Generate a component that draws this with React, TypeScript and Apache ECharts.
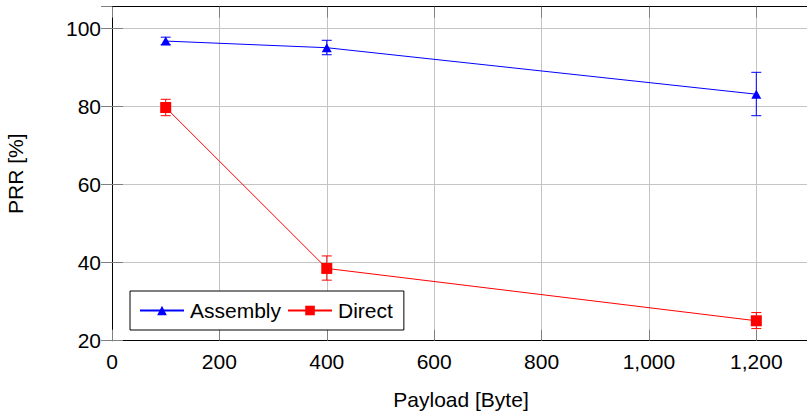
import React, { useEffect, useRef } from "react";
import * as echarts from "echarts";

const payloads = [100, 400, 1200];
const assembly = [96.7, 95.0, 83.1];
const assemblyLow = [95.8, 93.2, 77.6];
const assemblyHigh = [97.7, 96.9, 88.7];
const direct = [79.7, 38.5, 25.1];
const directLow = [77.6, 35.5, 23.1];
const directHigh = [81.8, 41.7, 27.2];

const FONT = "Liberation Sans, Arial, Helvetica, sans-serif";
const BLUE = "#0000ff";
const RED = "#ff0000";

function errSeries(name: string, color: string, lo: number[], hi: number[]) {
  return {
    type: "custom",
    name,
    xAxisIndex: 0,
    yAxisIndex: 0,
    z: 3,
    data: payloads.map((x, i) => [x, lo[i], hi[i]]),
    encode: { x: 0, y: [1, 2] },
    renderItem: (_params: any, api: any) => {
      const x = api.value(0);
      const pLo = api.coord([x, api.value(1)]);
      const pHi = api.coord([x, api.value(2)]);
      const w = 5;
      const style = { stroke: color, lineWidth: 1, fill: "none" };
      return {
        type: "group",
        children: [
          { type: "line", shape: { x1: pLo[0], y1: pLo[1], x2: pHi[0], y2: pHi[1] }, style },
          { type: "line", shape: { x1: pLo[0] - w, y1: pLo[1], x2: pLo[0] + w, y2: pLo[1] }, style },
          { type: "line", shape: { x1: pHi[0] - w, y1: pHi[1], x2: pHi[0] + w, y2: pHi[1] }, style },
        ],
      };
    },
  };
}

export default function App() {
  const ref = useRef<HTMLDivElement>(null);
  useEffect(() => {
    if (!ref.current) return;
    const chart = echarts.init(ref.current, null, { renderer: "svg" });
    const tickStyle = { show: true, inside: true, length: 11, lineStyle: { color: "#808080", width: 1 } };
    const axisLine = { show: true, lineStyle: { color: "#000", width: 1 } };
    const labelStyle = { color: "#000", fontSize: 21, fontFamily: FONT };
    chart.setOption({
      animation: false,
      backgroundColor: "#fff",
      textStyle: { fontFamily: FONT },
      grid: { left: 112, top: 6.7, width: 698, height: 334, outerBoundsMode: "none", containLabel: false },
      legend: {
        data: ["Assembly", "Direct"],
        left: 130,
        top: 291,
        orient: "horizontal",
        itemWidth: 44,
        itemHeight: 12,
        itemGap: 6,
        padding: [9, 11, 9, 9],
        borderColor: "#000",
        borderWidth: 1,
        borderRadius: 0,
        backgroundColor: "#fff",
        textStyle: { color: "#000", fontSize: 21, fontFamily: FONT, padding: [0, 0, 0, 1] },
      },
      xAxis: [
        {
          type: "value",
          min: 0,
          max: 1300,
          interval: 200,
          position: "bottom",
          name: "Payload [Byte]",
          nameLocation: "middle",
          nameGap: 48,
          nameTextStyle: labelStyle,
          axisLine,
          axisTick: tickStyle,
          axisLabel: {
            ...labelStyle,
            margin: 10,
            showMaxLabel: false,
            formatter: (v: number) => v.toLocaleString("en-US"),
          },
          splitLine: { show: true, lineStyle: { color: "#c4c4c4", width: 1 } },
        },
        {
          type: "value",
          min: 0,
          max: 1300,
          interval: 200,
          position: "top",
          axisLine,
          axisTick: tickStyle,
          axisLabel: { show: false },
          splitLine: { show: false },
        },
      ],
      yAxis: [
        {
          type: "value",
          min: 20,
          max: 105.5,
          interval: 20,
          position: "left",
          name: "PRR [%]",
          nameLocation: "middle",
          nameGap: 86,
          nameRotate: 90,
          nameTextStyle: labelStyle,
          axisLine,
          axisTick: tickStyle,
          axisLabel: { ...labelStyle, margin: 11, showMaxLabel: false },
          splitLine: { show: true, lineStyle: { color: "#c4c4c4", width: 1 } },
        },
        {
          type: "value",
          min: 20,
          max: 105.5,
          interval: 20,
          position: "right",
          axisLine,
          axisTick: tickStyle,
          axisLabel: { show: false },
          splitLine: { show: false },
        },
      ],
      series: [
        errSeries("Assembly-err", BLUE, assemblyLow, assemblyHigh),
        errSeries("Direct-err", RED, directLow, directHigh),
        {
          type: "line",
          name: "Assembly",
          data: payloads.map((x, i) => [x, assembly[i]]),
          symbol: "triangle",
          symbolSize: [10, 9],
          itemStyle: { color: BLUE },
          lineStyle: { color: BLUE, width: 1 },
          z: 4,
        },
        {
          type: "line",
          name: "Direct",
          data: payloads.map((x, i) => [x, direct[i]]),
          symbol: "rect",
          symbolSize: 11,
          itemStyle: { color: RED },
          lineStyle: { color: RED, width: 1 },
          z: 4,
        },
      ],
    });
    return () => chart.dispose();
  }, []);
  return (
    <div
      ref={ref}
      style={{ position: "fixed", left: 0, top: 0, width: 811, height: 411 }}
    />
  );
}
